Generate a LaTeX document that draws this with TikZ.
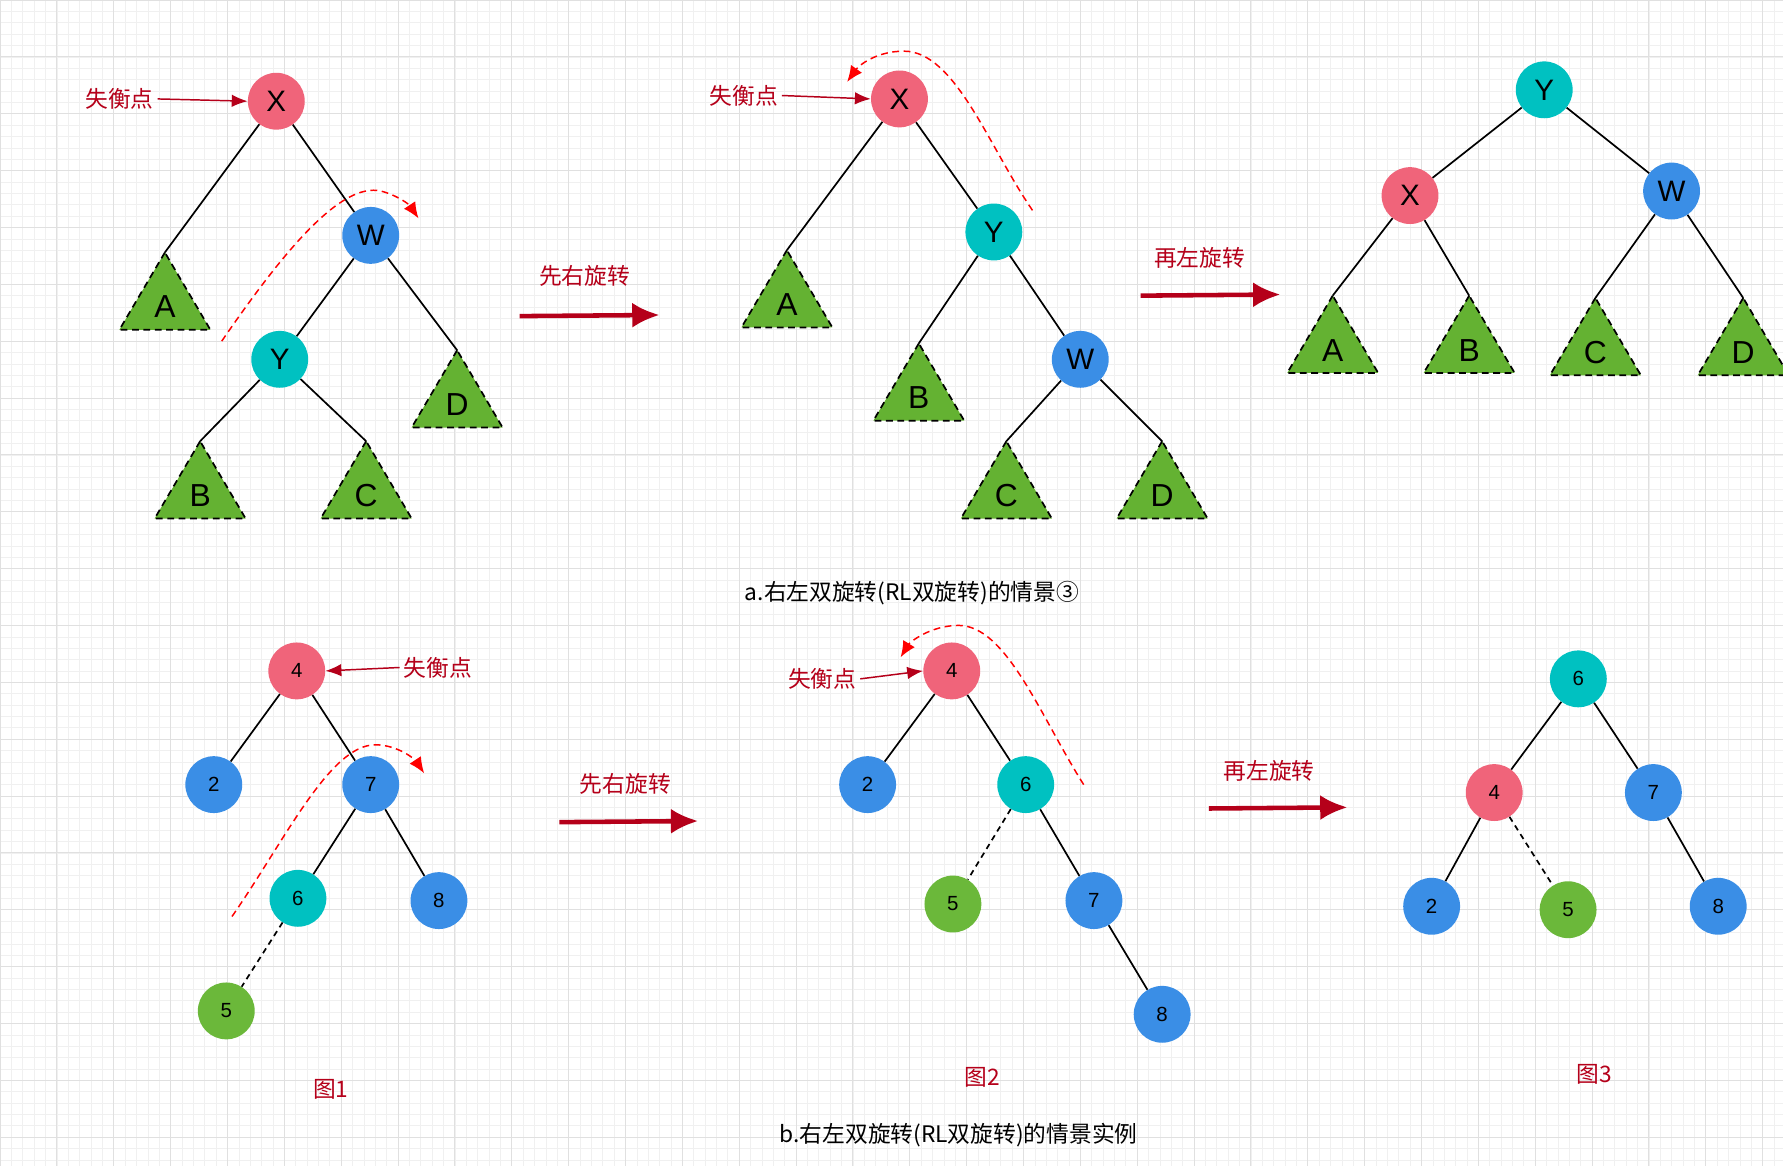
\documentclass[tikz,border=0pt]{standalone}
\usepackage{fontspec}
\setmainfont{Liberation Sans}
\newfontfamily\cjk{Noto Sans CJK SC}
\usetikzlibrary{arrows.meta}
\definecolor{npink}{HTML}{F0647A}
\definecolor{nblue}{HTML}{3A8EE6}
\definecolor{ncyan}{HTML}{00C1C1}
\definecolor{ngreen}{HTML}{6BB83A}
\definecolor{tgreen}{HTML}{64B232}
\definecolor{dred}{HTML}{B5001A}
\begin{document}
\begin{tikzpicture}[x=1pt,y=-1pt,
  big/.style={circle,minimum size=50pt,inner sep=0pt,font=\fontsize{26}{26}\selectfont},
  sm/.style={circle,minimum size=50pt,inner sep=0pt,font=\fontsize{18}{18}\selectfont},
  pk/.style={fill=npink},bl/.style={fill=nblue},cy/.style={fill=ncyan},gr/.style={fill=ngreen},
  edge/.style={line width=1.5pt},
  dedge/.style={line width=1.5pt,dash pattern=on 5pt off 4pt},
  tri/.style={fill=tgreen,draw=black,line width=1.5pt,dash pattern=on 6pt off 4pt},
  tl/.style={font=\fontsize{28}{28}\selectfont},
  rl/.style={text=dred,font=\cjk\fontsize{20}{20}\selectfont},
  ptr/.style={draw=dred,line width=1.3pt,-{Latex[length=14pt,width=11pt]}},
  big arrow/.style={draw=dred,line width=4pt,-{Latex[length=24pt,width=22pt]}},
  curve/.style={draw=red,line width=1.3pt,dash pattern=on 6pt off 4pt,-{Latex[length=14pt,width=12pt]}},
  captxt/.style={font=\cjk\fontsize{20}{20}\selectfont}]
\useasboundingbox (0,0) rectangle (1568,1025);
\fill[white] (0,0) rectangle (1568,1025);
\begin{scope}[y=1pt]
\draw[black!6,line width=0.5pt] (0,-1025) grid[step=10] (1568,0);
\draw[black!12,line width=0.7pt] (0,-1025) grid[step=50] (1568,0);
\end{scope}
\tikzset{pics/tr/.style={code={\path[tri] (0,0) -- (-40,68) -- (40,68) -- cycle;\node[tl] at (0,48) {#1};}}}
% ---- tree a1
\node[big,pk] (x1) at (243,89) {X};
\node[big,bl] (w1) at (326,207) {W};
\node[big,cy] (y1) at (246,316) {Y};
\coordinate (a1) at (145,222); \coordinate (d1) at (402,308);
\coordinate (b1) at (176,388); \coordinate (c1) at (322,388);
\draw[edge] (x1)--(a1) (x1)--(w1) (w1)--(y1) (w1)--(d1) (y1)--(b1) (y1)--(c1);
\pic at (a1) {tr=A}; \pic at (d1) {tr=D}; \pic at (b1) {tr=B}; \pic at (c1) {tr=C};
\node[rl] (l1) at (105,87) {失衡点};
\draw[ptr] (l1.east) -- (x1.west);
\coordinate (s1) at (195,300); \coordinate (e1) at (368,192);
\draw[curve] (s1) .. controls (250,220) and (300,160) .. (335,168) .. controls (350,172) and (360,180) .. (e1);
\node[rl] (t1) at (514,243) {先右旋转};
\coordinate (p1) at (457,278); \coordinate (q1) at (580,277);
\draw[big arrow] (p1) -- (q1);
% ---- tree a2
\node[big,pk] (x2) at (791,87) {X};
\node[big,cy] (y2) at (874,204) {Y};
\node[big,bl] (w2) at (950,316) {W};
\coordinate (a2) at (692,220); \coordinate (b2) at (808,302);
\coordinate (c2) at (885,388); \coordinate (d2) at (1022,388);
\draw[edge] (x2)--(a2) (x2)--(y2) (y2)--(b2) (y2)--(w2) (w2)--(c2) (w2)--(d2);
\pic at (a2) {tr=A}; \pic at (b2) {tr=B}; \pic at (c2) {tr=C}; \pic at (d2) {tr=D};
\node[rl] (l2) at (654,84) {失衡点};
\draw[ptr] (l2.east) -- (x2.west);
\coordinate (s2) at (908,185); \coordinate (e2) at (745,72);
\draw[curve] (s2) .. controls (870,130) and (840,45) .. (795,45) .. controls (770,45) and (755,58) .. (e2);
\node[rl] (t2) at (1055,227) {再左旋转};
\coordinate (p2) at (1003,260); \coordinate (q2) at (1126,259);
\draw[big arrow] (p2) -- (q2);
% ---- tree a3
\node[big,cy] (y3) at (1358,79) {Y};
\node[big,pk] (x3) at (1240,172) {X};
\node[big,bl] (w3) at (1470,168) {W};
\coordinate (a3) at (1172,260); \coordinate (b3) at (1292,260);
\coordinate (c3) at (1403,262); \coordinate (d3) at (1533,262);
\draw[edge] (y3)--(x3) (y3)--(w3) (x3)--(a3) (x3)--(b3) (w3)--(c3) (w3)--(d3);
\pic at (a3) {tr=A}; \pic at (b3) {tr=B}; \pic at (c3) {tr=C}; \pic at (d3) {tr=D};
\node[captxt] (capa) at (802,522) {a.右左双旋转(RL双旋转)的情景③};
% ---- fig1
\node[sm,pk] (n4a) at (261,590) {4};
\node[sm,bl] (n2a) at (188,690) {2};
\node[sm,bl] (n7a) at (326,690) {7};
\node[sm,cy] (n6a) at (262,790) {6};
\node[sm,bl] (n8a) at (386,792) {8};
\node[sm,gr] (n5a) at (199,889) {5};
\draw[edge] (n4a)--(n2a) (n4a)--(n7a) (n7a)--(n6a) (n7a)--(n8a);
\draw[dedge] (n6a)--(n5a);
\node[rl] (l3) at (385,587) {失衡点};
\draw[ptr] (l3.west) -- (n4a.east);
\coordinate (s3) at (204,806); \coordinate (e3) at (373,680);
\draw[curve] (s3) .. controls (250,740) and (290,655) .. (330,655) .. controls (350,655) and (365,668) .. (e3);
\node[rl] (t3) at (550,689) {先右旋转};
\coordinate (p3) at (492,723); \coordinate (q3) at (614,722);
\draw[big arrow] (p3) -- (q3);
\node[rl] (f1) at (291,958) {图1};
% ---- fig2
\node[sm,pk] (n4b) at (837,590) {4};
\node[sm,bl] (n2b) at (763,690) {2};
\node[sm,cy] (n6b) at (902,690) {6};
\node[sm,gr] (n5b) at (838,795) {5};
\node[sm,bl] (n7b) at (962,792) {7};
\node[sm,bl] (n8b) at (1022,892) {8};
\draw[edge] (n4b)--(n2b) (n4b)--(n6b) (n6b)--(n7b) (n7b)--(n8b);
\draw[dedge] (n6b)--(n5b);
\node[rl] (l4) at (723,597) {失衡点};
\draw[ptr] (l4.east) -- (n4b.west);
\coordinate (s4) at (953,690); \coordinate (e4) at (792,578);
\draw[curve] (s4) .. controls (915,630) and (885,550) .. (843,550) .. controls (818,550) and (800,565) .. (e4);
\node[rl] (t4) at (1116,678) {再左旋转};
\coordinate (p4) at (1063,711); \coordinate (q4) at (1185,710);
\draw[big arrow] (p4) -- (q4);
\node[rl] (f2) at (864,947) {图2};
% ---- fig3
\node[sm,cy] (n6c) at (1388,597) {6};
\node[sm,pk] (n4c) at (1314,697) {4};
\node[sm,bl] (n7c) at (1454,697) {7};
\node[sm,bl] (n2c) at (1259,797) {2};
\node[sm,gr] (n5c) at (1379,800) {5};
\node[sm,bl] (n8c) at (1511,797) {8};
\draw[edge] (n6c)--(n4c) (n6c)--(n7c) (n4c)--(n2c) (n7c)--(n8c);
\draw[dedge] (n4c)--(n5c);
\node[rl] (f3) at (1402,945) {图3};
\node[captxt] (capb) at (843,998) {b.右左双旋转(RL双旋转)的情景实例};
\end{tikzpicture}
\end{document}
